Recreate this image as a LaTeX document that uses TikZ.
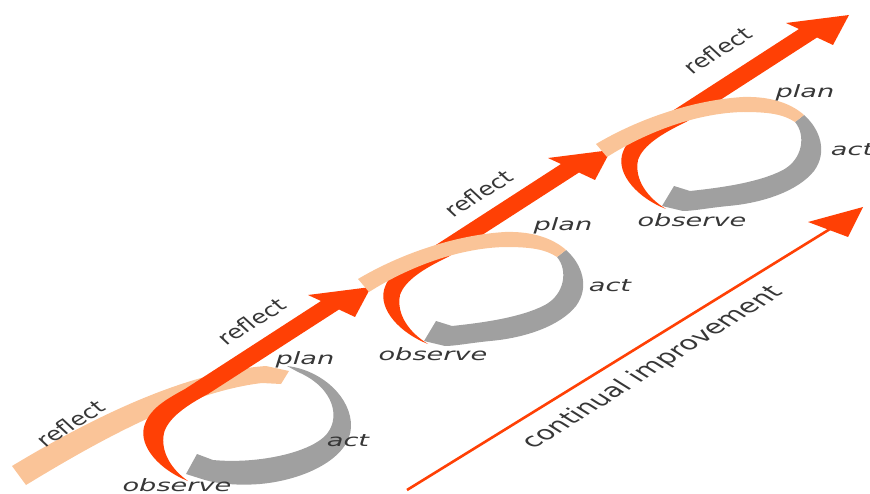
\documentclass[tikz,border=0pt]{standalone}
\usepackage{fontspec}
\setmainfont{DejaVu Sans}
\definecolor{cred}{RGB}{255,64,5}
\definecolor{cpeach}{RGB}{250,196,152}
\definecolor{cgray}{RGB}{160,160,160}
\definecolor{ctext}{RGB}{55,55,55}
\tikzset{
  reflectband/.style={fill=cred},
  planband/.style={fill=cpeach},
  actband/.style={fill=cgray},
  lbl/.style={text=ctext, font=\fontsize{17}{20}\selectfont\itshape, xscale=1.6, inner sep=0pt},
  rlbl/.style={lbl, rotate=45},
  cilbl/.style={text=ctext, font=\fontsize{19}{22}\selectfont, xscale=1.6, rotate=45, inner sep=0pt},
  ciline/.style={draw=cred, line width=2.6pt},
}
\newcommand{\cyclebands}{%
  \fill[reflectband] (428,344) .. controls (400,333) and (379,310) .. (384,290)
     .. controls (389,272) and (405,263) .. (425,252) -- (561,164) -- (548,158)
     -- (611,150) -- (595,180) -- (579,172.5) -- (448,257)
     .. controls (425,268) and (405,280) .. (400,295)
     .. controls (396,315) and (410,333) .. (428,344) -- cycle;
  \fill[actband] (566,250) .. controls (582,264) and (590,287) .. (576,306)
     .. controls (560,326) and (525,338) .. (490,341)
     .. controls (470,343) and (455,346) .. (445,346) -- (424,341) -- (436,321) -- (452,326)
     .. controls (480,323) and (520,318) .. (545,305)
     .. controls (565,294) and (568,270) .. (557,257) -- cycle;
  \fill[planband] (358,279) .. controls (400,254) and (455,235) .. (505,232)
     .. controls (535,231) and (555,240) .. (566,250) -- (557,257)
     .. controls (545,249) and (530,247) .. (505,247)
     .. controls (460,248) and (410,266) .. (369,292) -- cycle;
}
\begin{document}
\begin{tikzpicture}[x=1pt,y=-1pt]
\useasboundingbox (0,0) rectangle (870,494);
% cycle 1
\fill[planband] (12,466) .. controls (80,425) and (180,372) .. (266,366) -- (289,371)
   -- (281,384) -- (262,383) .. controls (185,392) and (95,443) .. (26,485) -- cycle;
\fill[reflectband] (188,481) .. controls (160,470) and (139,447) .. (144,427)
   .. controls (149,409) and (165,400) .. (185,389) -- (321,301) -- (308,295)
   -- (371,287) -- (355,317) -- (339,309.5) -- (208,394)
   .. controls (187,405) and (168,418) .. (164,433)
   .. controls (160,452) and (172,470) .. (188,481) -- cycle;
\fill[actband] (287,366) .. controls (322,370) and (352,398) .. (351,427)
   .. controls (350,458) and (305,480) .. (260,484)
   .. controls (235,486) and (215,483) .. (205,480) -- (186,474) -- (197,454) -- (213,460)
   .. controls (255,464) and (305,454) .. (324,437)
   .. controls (342,420) and (335,388) .. (298,372) -- cycle;
% cycle 2
\cyclebands
% cycle 3
\begin{scope}[shift={(238,-135)}]
\cyclebands
\end{scope}
% continual improvement arrow
\coordinate (cis) at (407,490);
\coordinate (cie) at (830,229);
\draw[ciline] (cis) -- (cie);
\fill[cred] (863,207) -- (808,222) -- (848,237) -- cycle;
% labels
\node[rlbl] (r0) at (70,424) {reflect};
\node[rlbl] (r1) at (251,322) {reflect};
\node[rlbl] (r2) at (478,194) {reflect};
\node[rlbl] (r3) at (717,51) {reflect};
\node[lbl] (p1) at (305,360) {plan};
\node[lbl] (p2) at (563,226) {plan};
\node[lbl] (p3) at (805,93) {plan};
\node[lbl] (a1) at (348,441) {act};
\node[lbl] (a2) at (610,286) {act};
\node[lbl] (a3) at (852,150) {act};
\node[lbl] (o1) at (177,485) {observe};
\node[lbl] (o2) at (433,354) {observe};
\node[lbl] (o3) at (692,220) {observe};
\node[cilbl] (ci) at (653,368) {continual improvement};
\end{tikzpicture}
\end{document}
